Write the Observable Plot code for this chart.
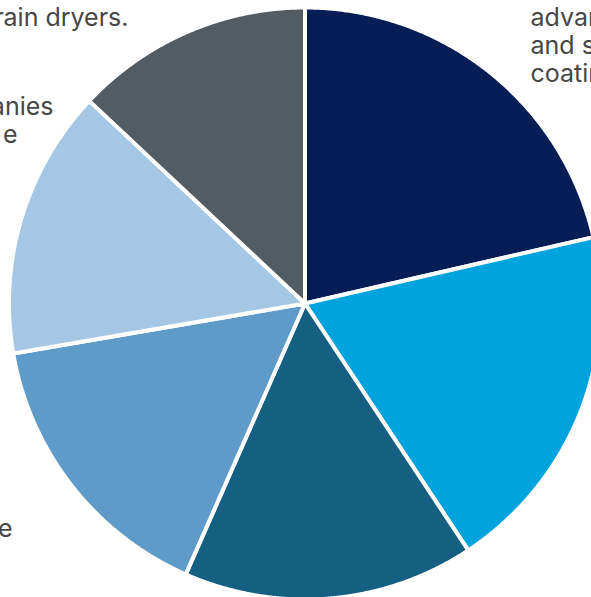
<!DOCTYPE html>
<html>
<head>
<meta charset="utf-8">
<script src="https://cdn.jsdelivr.net/npm/d3@7"></script>
<script src="https://cdn.jsdelivr.net/npm/@observablehq/plot@0.6"></script>
<style>
  html, body { margin: 0; padding: 0; overflow: hidden; background: #fff; }
  #chart svg { display: block; }
</style>
</head>
<body>
<div id="chart"></div>
<script>
// Data (clockwise from 12 o'clock)
const categories = ["Advanced materials and specialty coatings", "Segment B", "Segment C", "Segment D", "Companies", "Grain dryers"];
const shares = [21.4, 19.3, 15.9, 15.7, 14.7, 13.0];
const colors = ["#061d56", "#00a3de", "#156082", "#5f9bc8", "#a5c7e3", "#535b63"];

// Visible fragments of the outer slice labels (the reference is a crop)
const labelTopLeft = ["rain dryers."];
const labelRight = ["advan", "and s", "coatin"];
const labelLeft1 = ["anies"];
const labelLeft2 = ["e"];
const labelBottomLeft = ["e"];

// Build slice outlines from the pie layout
const arcs = d3.pie().sort(null).value(d => d)(shares);
const pts = [];
arcs.forEach((a, i) => {
  const name = categories[i];
  pts.push({name, x: 0, y: 0});
  const n = Math.max(2, Math.ceil((a.endAngle - a.startAngle) / 0.005));
  for (let k = 0; k <= n; k++) {
    const t = a.startAngle + (a.endAngle - a.startAngle) * k / n;
    pts.push({name, x: Math.sin(t), y: Math.cos(t)});
  }
});

const textStyle = {fontSize: 25, fill: "#474747", lineAnchor: "bottom", frameAnchor: "top-left"};

const chart = Plot.plot({
  width: 591,
  height: 597,
  margin: 0,
  style: {fontFamily: "Inter, Roboto, sans-serif", overflow: "hidden", background: "#fff"},
  x: {domain: [-1, 1], range: [8.5, 600.5], axis: null},
  y: {domain: [-1, 1], range: [599, 7], axis: null},
  color: {domain: categories, range: colors},
  marks: [
    Plot.line(pts, {x: "x", y: "y", z: "name", fill: "name", stroke: "white", strokeWidth: 4, curve: "linear-closed", strokeLinejoin: "round"}),
    Plot.text(labelTopLeft, {...textStyle, text: d => d, textAnchor: "end", dx: 128, dy: 25}),
    Plot.text(labelRight.slice(0, 1), {...textStyle, text: d => d, textAnchor: "start", dx: 530, dy: 25}),
    Plot.text(labelRight.slice(1, 2), {...textStyle, text: d => d, textAnchor: "start", dx: 530, dy: 53}),
    Plot.text(labelRight.slice(2, 3), {...textStyle, text: d => d, textAnchor: "start", dx: 530, dy: 81}),
    Plot.text(labelLeft1, {...textStyle, text: d => d, textAnchor: "end", dx: 53, dy: 114}),
    Plot.text(labelLeft2, {...textStyle, text: d => d, textAnchor: "end", dx: 17, dy: 142}),
    Plot.text(labelBottomLeft, {...textStyle, text: d => d, textAnchor: "end", dx: 12, dy: 536})
  ]
});
document.getElementById("chart").appendChild(chart);
</script>
</body>
</html>
